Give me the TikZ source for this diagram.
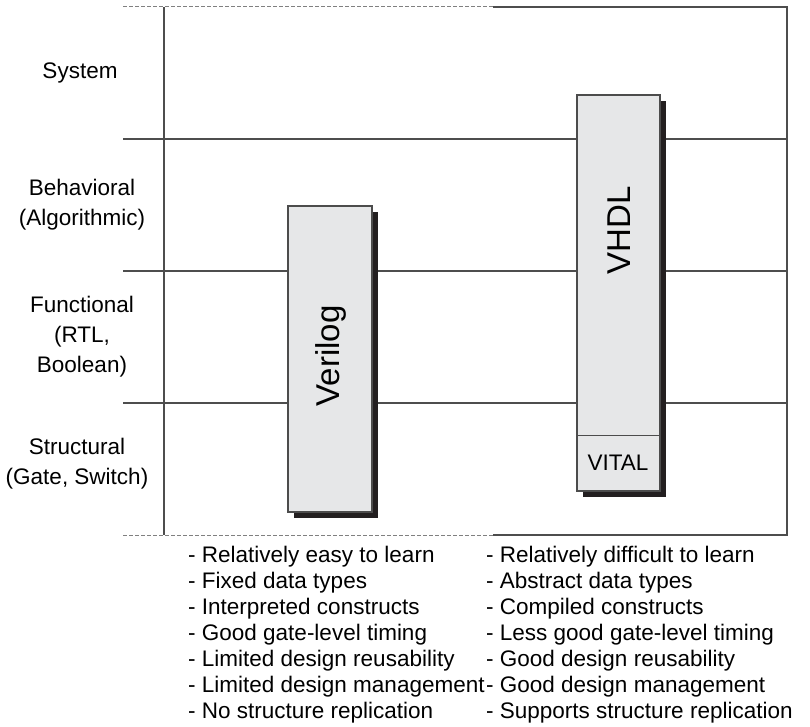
\documentclass[tikz,border=0pt]{standalone}
\usepackage{fontspec}
\setmainfont{Liberation Sans}
\definecolor{boxgray}{HTML}{E6E7E8}
\definecolor{shadowblack}{HTML}{231F20}
\definecolor{framegray}{HTML}{4D4D4D}
\begin{document}
\begin{tikzpicture}[x=1pt,y=-1pt,
  frameline/.style={draw=framegray, line width=1.3pt},
  dashline/.style={draw=black!50, line width=1pt, dash pattern=on 4pt off 2pt},
  langbox/.style={fill=boxgray, draw=black!70, line width=1.2pt},
  shadowfill/.style={fill=shadowblack},
  lbl/.style={font=\fontsize{22.5}{30}\selectfont, align=center, inner sep=0pt},
  note/.style={font=\fontsize{22.5}{26}\selectfont, anchor=base west, inner sep=0pt},
  bigtext/.style={font=\fontsize{33}{36}\selectfont, inner sep=0pt}
]
\useasboundingbox (0,0) rectangle (810,727);
% frame coordinates
\coordinate (tdl) at (123,7);
\coordinate (tl) at (164,7);
\coordinate (tm) at (493,7);
\coordinate (tr) at (787,7);
\coordinate (bdl) at (123,535);
\coordinate (bl) at (164,535);
\coordinate (bm) at (493,535);
\coordinate (br) at (787,535);
\coordinate (l1) at (123,139); \coordinate (r1) at (787,139);
\coordinate (l2) at (123,271); \coordinate (r2) at (787,271);
\coordinate (l3) at (123,403); \coordinate (r3) at (787,403);
% frame
\draw[dashline] (tdl) -- (tm);
\draw[dashline] (bdl) -- (bm);
\draw[frameline] (tm) -- (tr) -- (br) -- (bm);
\draw[frameline] (tl) -- (bl);
\draw[frameline] (l1) -- (r1);
\draw[frameline] (l2) -- (r2);
\draw[frameline] (l3) -- (r3);
% level labels
\node[lbl] (sys) at (80,73) {System};
\node[lbl] (beh) at (82,205) {Behavioral\\(Algorithmic)};
\node[lbl] (fun) at (82,337) {Functional\\(RTL,\\Boolean)};
\node[lbl] (str) at (77,464) {Structural\\(Gate, Switch)};
% Verilog box
\fill[shadowfill] (294,212) rectangle (378,518);
\draw[langbox] (288,206) rectangle (372,512);
\node[bigtext, rotate=90] (verilog) at (331,356) {Verilog};
% VHDL box
\fill[shadowfill] (583,101) rectangle (666,497);
\draw[langbox] (577,95) rectangle (660,491);
\coordinate (vdl) at (577,435);
\coordinate (vdr) at (660,435);
\draw[draw=black!70, line width=1pt] (vdl) -- (vdr);
\node[bigtext, rotate=90] (vhdl) at (619,230) {VHDL};
\node[lbl] (vital) at (618,463) {VITAL};
% notes
\foreach \i/\t in {0/{- Relatively easy to learn},1/{- Fixed data types},2/{- Interpreted constructs},3/{- Good gate-level timing},4/{- Limited design reusability},5/{- Limited design management},6/{- No structure replication}}{
  \node[note] (left\i) at (188,{562+26*\i}) {\t};
}
\foreach \i/\t in {0/{- Relatively difficult to learn},1/{- Abstract data types},2/{- Compiled constructs},3/{- Less good gate-level timing},4/{- Good design reusability},5/{- Good design management},6/{- Supports structure replication}}{
  \node[note] (right\i) at (486,{562+26*\i}) {\t};
}
\end{tikzpicture}
\end{document}
